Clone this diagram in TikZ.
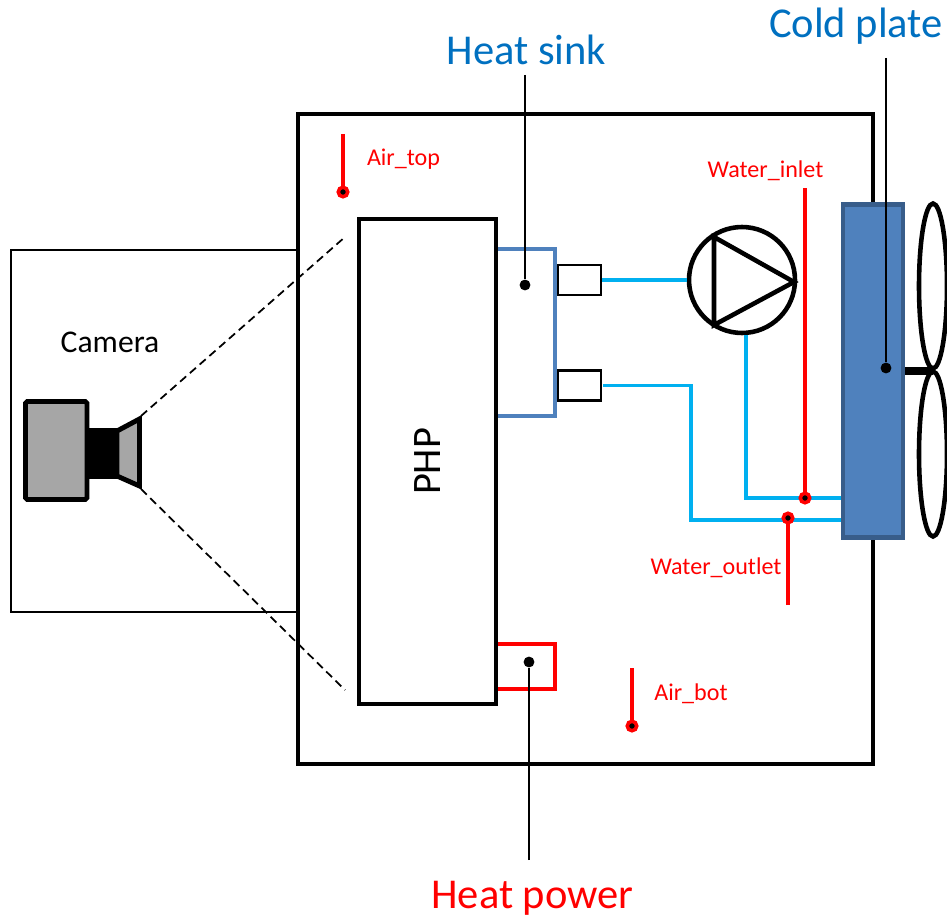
\documentclass[tikz,border=0pt]{standalone}
\usepackage{fontspec}
\setmainfont{Carlito}
\usetikzlibrary{shapes.geometric}
\definecolor{sinkblue}{HTML}{4F81BD}
\definecolor{plateedge}{HTML}{385D8A}
\definecolor{pipeblue}{HTML}{00B0F0}
\definecolor{bodygray}{HTML}{A6A6A6}
\definecolor{calloutblue}{HTML}{0070C0}
\tikzstyle{mydiagramstyle}=[
    x=0.02cm, y=-0.02cm,
    line join=miter,
    thickline/.style={black, line width=2.6pt},
    thinline/.style={black, line width=1.2pt},
    sinkline/.style={sinkblue, line width=2.8pt},
    heatline/.style={red, line width=2.8pt},
    pipe/.style={pipeblue, line width=2.1pt},
    probe/.style={red, line width=2.2pt},
    leader/.style={black, line width=1.1pt},
    sightline/.style={black, line width=1pt, dash pattern=on 4.6pt off 2.8pt},
    blackdot/.style={circle, fill=black, inner sep=0pt, minimum size=6.2pt},
    probedot/.style={circle, fill=black, draw=red, line width=2pt, inner sep=0pt, minimum size=5.4pt},
    bigtext/.style={font=\fontsize{24.2}{28}\selectfont, inner sep=0pt},
    smalltext/.style={red, font=\fontsize{13.7}{16}\selectfont, inner sep=0pt},
]

\begin{document}
\begin{tikzpicture}[mydiagramstyle]
        \useasboundingbox (0,0) rectangle (947,919);
        % enclosure and camera housing
        \draw[thickline, line width=2pt] (298,114) rectangle (873,764);
        \draw[thinline] (298,250) -- (11,250) -- (11,612) -- (298,612);
        % heat sink and heater
        \draw[sinkline] (496,249) -| (555,416) -- (496,416);
        \draw[heatline] (496,644) -| (555,689) -- (496,689);
        \node[draw, thickline, rotate=90, minimum width=9.7cm, minimum height=2.74cm,
              font=\fontsize{23}{26}\selectfont] (php) at (427.5,461.5) {PHP};
        % ports
        \node[draw, thinline, minimum width=0.86cm, minimum height=0.6cm] (portup) at (579.5,280) {};
        \node[draw, thinline, minimum width=0.86cm, minimum height=0.6cm] (portdown) at (579.5,385.5) {};
        % pump
        \node[draw, thickline, circle, minimum size=2.12cm, inner sep=0pt] (pump) at (742,280) {};
        \draw[thickline] (714,237) -- (794,282) -- (714,325) -- cycle;
        % cold plate and fan
        \node[draw=plateedge, fill=sinkblue, line width=2.6pt, minimum width=1.2cm,
              minimum height=6.66cm, inner sep=0pt] (plate) at (873,371) {};
        \node[draw, thickline, ellipse, minimum width=0.56cm, minimum height=3.3cm, inner sep=0pt] (fanup) at (933,286) {};
        \node[draw, thickline, ellipse, minimum width=0.56cm, minimum height=3.3cm, inner sep=0pt] (fandown) at (933,454) {};
        \coordinate (fanhub) at (933,371);
        \draw[black, line width=4.2pt] (plate.east |- fanhub) -- (fanhub);
        % water circuit
        \coordinate (inletjoint) at (805,498);
        \coordinate (outletjoint) at (788,520);
        \coordinate (pipebend) at (691,385.5);
        \draw[pipe] (portup.east) -- (pump.west);
        \draw[pipe] (portdown.east) ++(1,0) -- (pipebend) -- (691,520) -- (outletjoint) -- (plate.west |- outletjoint);
        \draw[pipe] (pump.south -| 746,0) -- (746,498) -- (inletjoint) -- (plate.west |- inletjoint);
        % camera
        \draw[black, fill=bodygray, line width=2.8pt, rounded corners=1pt] (25.5,401.5) rectangle (87,499.5);
        \fill[black] (89,428) rectangle (119,479);
        \draw[black, fill=bodygray, line width=2.8pt] (117,431) -- (139.5,419) -- (139.5,486) -- (117,476) -- cycle;
        \coordinate (lensup) at (141,416);
        \coordinate (lensdown) at (141,489);
        \coordinate (viewup) at (345,237);
        \coordinate (viewdown) at (345,690);
        \draw[sightline] (lensup) -- (viewup);
        \draw[sightline] (lensdown) -- (viewdown);
        % labels
        \node[font=\fontsize{18}{22}\selectfont, inner sep=0pt] (camera) at (110,342) {Camera};
        \node[bigtext, calloutblue] (sinklabel) at (526.5,49.5) {Heat sink};
        \node[bigtext, calloutblue] (platelabel) at (856,26) {Cold plate};
        \node[bigtext, red] (powerlabel) at (532.5,898) {Heat power};
        \node[smalltext] (airtop) at (403.5,159.5) {Air\_top};
        \node[smalltext] (airbot) at (691,693.5) {Air\_bot};
        \node[smalltext] (inlet) at (765.5,171) {Water\_inlet};
        \node[smalltext] (outlet) at (716,567.5) {Water\_outlet};
        % callouts
        \node[blackdot] (sinkdot) at (525,285) {};
        \node[blackdot] (platedot) at (886,368) {};
        \node[blackdot] (powerdot) at (529,662) {};
        \coordinate (sinktop) at (525,75);
        \coordinate (platetop) at (886,58);
        \coordinate (powerend) at (529,860);
        \draw[leader] (sinktop) -- (sinkdot);
        \draw[leader] (platetop) -- (platedot);
        \draw[leader] (powerend) -- (powerdot);
        % temperature probes
        \coordinate (airtopend) at (343,134);
        \coordinate (airbotend) at (632,668);
        \coordinate (inletend) at (805,188);
        \coordinate (outletend) at (788,605);
        \coordinate (airtoptip) at (343,192);
        \coordinate (airbottip) at (632,726);
        \coordinate (inlettip) at (805,498);
        \coordinate (outlettip) at (788,518);
        \draw[probe] (airtopend) -- (airtoptip);
        \draw[probe] (airbotend) -- (airbottip);
        \draw[probe] (inletend) -- (inlettip);
        \draw[probe] (outletend) -- (outlettip);
        \node[probedot] (airtopdot) at (airtoptip) {};
        \node[probedot] (airbotdot) at (airbottip) {};
        \node[probedot] (inletdot) at (inlettip) {};
        \node[probedot] (outletdot) at (outlettip) {};
    \end{tikzpicture}
\end{document}
